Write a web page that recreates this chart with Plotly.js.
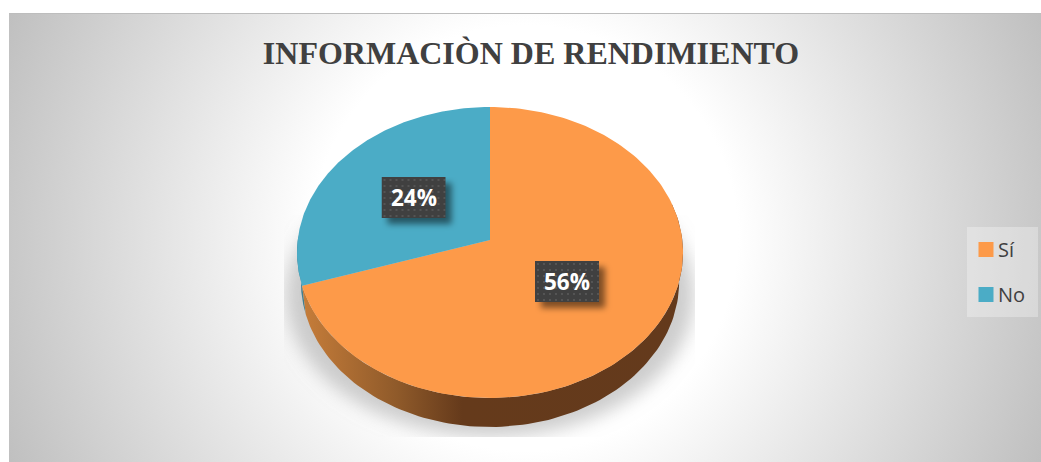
<!DOCTYPE html>
<html>
<head>
<meta charset="utf-8">
<script src="https://cdn.plot.ly/plotly-3.0.1.min.js"></script>
<style>
  html, body { margin: 0; padding: 0; background: #fff; overflow: hidden; }
  #bg {
    position: absolute; left: 9px; top: 13px; width: 1032px; height: 449px;
    background: radial-gradient(circle 560px at 516px 224px, #fff 38%, #c0c0c0 100%);
    border-top: 1px solid #bdbdbd; box-sizing: border-box;
  }
  #chart { position: absolute; left: 0; top: 0; width: 1041px; height: 462px; }
</style>
</head>
<body>
<div id="bg"></div>
<div id="chart"></div>
<script>
var categories = ['Sí', 'No'];
var values = [56, 24];
var labels = ['56%', '24%'];
var colors = ['#fd9a49', '#4bacc6'];

// the tilted pie: a circle seen in perspective, drawn on axes that run in page pixels
var cx = 490, cy = 240, rimX = 192.3, rimY = 144.4, tilt = 0.0859, depth = 29, wallScale = 0.98;

function rim(deg) {
    var t = deg * Math.PI / 180;
    var u = Math.sin(t), v = -Math.cos(t), w = 1 - tilt * v;
    return [cx + rimX * u / w, cy + rimY * v / w];
}

function sliceTrace(i, from, to) {
    var xs = [cx], ys = [cy];
    for (var d = from; d <= to + 0.001; d += (to - from) / 180) {
        var p = rim(d);
        xs.push(p[0]); ys.push(p[1]);
    }
    xs.push(cx); ys.push(cy);
    return {
        x: xs, y: ys, mode: 'lines', fill: 'toself', name: categories[i],
        fillcolor: colors[i], line: {width: 0}, showlegend: false,
        text: labels[i], hoverinfo: 'text'
    };
}

// the lower rim is further away, so it is a little narrower than the top one
function wallTrace(from, to, fill) {
    var xs = [], ys = [], back = [], d, p;
    for (d = from; d <= to + 0.001; d += (to - from) / 120) {
        p = rim(d);
        xs.push(p[0]); ys.push(p[1]);
        back.unshift(p);
    }
    back.forEach(function (q) { xs.push(cx + (q[0] - cx) * wallScale); ys.push(q[1] + depth); });
    var t = {x: xs, y: ys, mode: 'lines', fill: 'toself', line: {width: 0}, showlegend: false, hoverinfo: 'skip'};
    if (fill.colorscale) t.fillgradient = fill; else t.fillcolor = fill;
    return t;
}

var total = values[0] + values[1];
var split = values[0] / total * 360;

var data = [
    wallTrace(split, 272, '#3f7f92'),
    wallTrace(75, split, {
        type: 'horizontal',
        colorscale: [[0, '#c67d3a'], [0.25, '#8f5a2a'], [0.42, '#653a1b'], [1, '#643a1c']]
    }),
    sliceTrace(0, 0, split),
    sliceTrace(1, split, 360)
];

// legend entries: square swatches
categories.forEach(function (c, i) {
    data.push({
        x: [null], y: [null], mode: 'markers', name: c, legendgroup: c,
        marker: {symbol: 'square', size: 15, color: colors[i]}
    });
});

function svgUri(s) { return 'data:image/svg+xml,' + encodeURIComponent(s); }

var floorShadow = svgUri(
    '<svg xmlns="http://www.w3.org/2000/svg" width="411" height="222" viewBox="0 0 411 222">' +
    '<defs><filter id="b" x="-20%" y="-20%" width="140%" height="140%"><feGaussianBlur stdDeviation="9"/></filter></defs>' +
    '<ellipse cx="206" cy="80" rx="204" ry="142" fill="#9c9c9c" fill-opacity="0.5" filter="url(#b)"/></svg>');

var labelBox = svgUri(
    '<svg xmlns="http://www.w3.org/2000/svg" width="83" height="61" viewBox="0 0 83 61">' +
    '<defs><filter id="b" x="-30%" y="-30%" width="160%" height="160%"><feGaussianBlur stdDeviation="3"/></filter>' +
    '<pattern id="p" width="6" height="6" patternUnits="userSpaceOnUse"><rect width="6" height="6" fill="#404040"/>' +
    '<circle cx="3" cy="3" r="0.9" fill="#5e5e5e"/></pattern></defs>' +
    '<rect x="6" y="6" width="64" height="41" fill="#000" fill-opacity="0.5" filter="url(#b)"/>' +
    '<rect x="0" y="0" width="64" height="41" fill="url(#p)"/></svg>');

var labelPos = [[567, 281.5], [413.5, 197.5]];

var images = [{
    source: floorShadow, xref: 'x', yref: 'y', x: 284, y: 215, sizex: 411, sizey: 222,
    sizing: 'stretch', xanchor: 'left', yanchor: 'top', layer: 'below'
}];
var annotations = labelPos.map(function (p, i) {
    images.push({
        source: labelBox, xref: 'x', yref: 'y', x: p[0] - 32, y: p[1] - 20.5, sizex: 83, sizey: 61,
        sizing: 'stretch', xanchor: 'left', yanchor: 'top', layer: 'above'
    });
    return {
        x: p[0], y: p[1], xref: 'x', yref: 'y', text: '<b>' + labels[i] + '</b>', showarrow: false,
        font: {family: '"Open Sans", sans-serif', size: 22.5, color: '#fff'}
    };
});

var layout = {
    width: 1041, height: 462,
    margin: {l: 0, r: 0, t: 0, b: 0},
    paper_bgcolor: 'rgba(0,0,0,0)', plot_bgcolor: 'rgba(0,0,0,0)',
    title: {
        text: '<b>INFORMACIÒN DE RENDIMIENTO</b>',
        font: {family: '"Liberation Serif", serif', size: 32, color: '#404040'},
        x: 531 / 1041, xanchor: 'center', y: 1 - 53 / 462, yanchor: 'middle'
    },
    xaxis: {range: [0, 1041], visible: false, fixedrange: true},
    yaxis: {range: [462, 0], visible: false, fixedrange: true},
    legend: {
        x: 966 / 1041, xanchor: 'left', y: 1 - 230 / 462, yanchor: 'top',
        bgcolor: 'rgba(0,0,0,0)', traceorder: 'grouped', tracegroupgap: 16,
        font: {family: '"Open Sans", sans-serif', size: 20, color: '#404040'}
    },
    shapes: [{
        type: 'rect', xref: 'x', yref: 'y', x0: 967, x1: 1038, y0: 227, y1: 317,
        fillcolor: 'rgba(255,255,255,0.3)', line: {width: 0}, layer: 'below'
    }],
    images: images,
    annotations: annotations
};

Plotly.newPlot('chart', data, layout, {displayModeBar: false}).then(function () {
    // pull the legend text closer to the swatches
    document.querySelectorAll('.legendtext').forEach(function (t) {
        t.setAttribute('x', +t.getAttribute('x') - 8);
    });
});
</script>
</body>
</html>
